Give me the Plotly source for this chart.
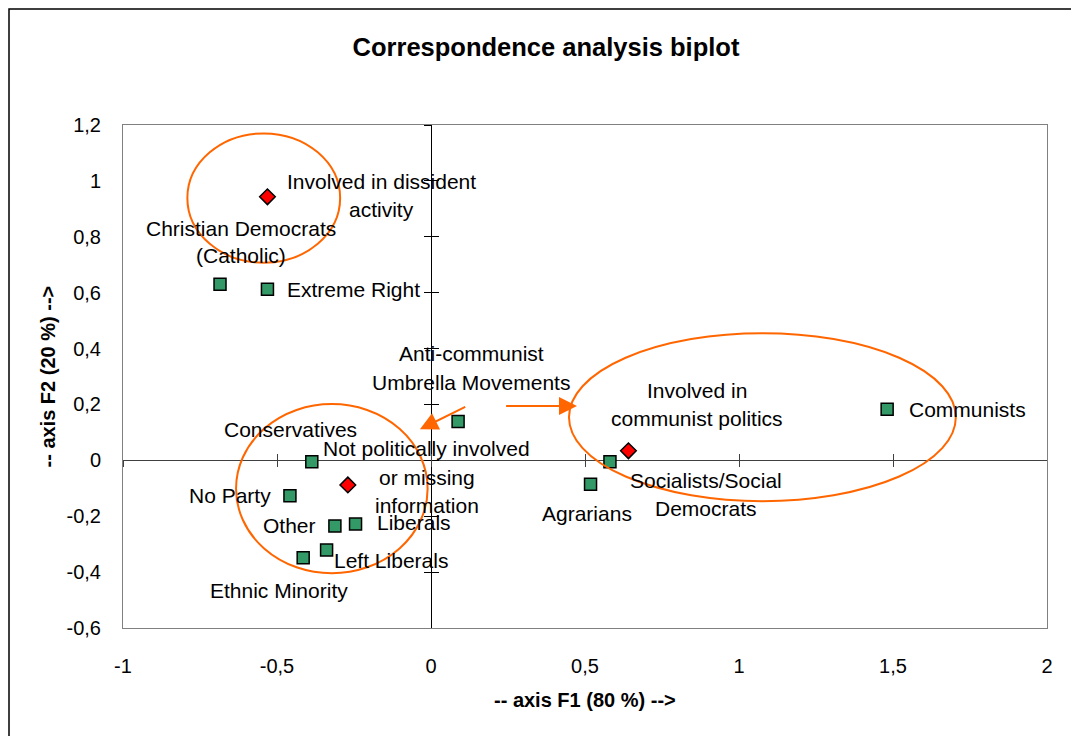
import plotly.graph_objects as go

# ---------------- data ----------------
party_names = ["Christian Democrats\n(Catholic)", "Extreme Right", "Anti-communist\nUmbrella Movements",
               "Communists", "Socialists/Social\nDemocrats", "Agrarians", "Conservatives", "No Party",
               "Other", "Liberals", "Left Liberals", "Ethnic Minority"]
party_f1 = [-0.685, -0.531, 0.088, 1.481, 0.581, 0.518, -0.387, -0.458, -0.312, -0.245, -0.339, -0.415]
party_f2 = [0.630, 0.612, 0.139, 0.183, -0.005, -0.086, -0.005, -0.127, -0.235, -0.228, -0.321, -0.349]

activity_names = ["Involved in dissident\nactivity", "Not politically involved\nor missing\ninformation",
                  "Involved in\ncommunist politics"]
activity_f1 = [-0.531, -0.270, 0.641]
activity_f2 = [0.943, -0.088, 0.034]

x_ticks = [-1, -0.5, 0, 0.5, 1, 1.5, 2]
x_tick_labels = ["-1", "-0,5", "0", "0,5", "1", "1,5", "2"]
y_ticks = [-0.6, -0.4, -0.2, 0, 0.2, 0.4, 0.6, 0.8, 1.0, 1.2]
y_tick_labels = ["-0,6", "-0,4", "-0,2", "0", "0,2", "0,4", "0,6", "0,8", "1", "1,2"]

# highlighted groups (ellipses, in axis units): x0, x1, y0, y1
highlight_regions = [(-0.791, -0.295, 0.707, 1.170),
                     (-0.633, -0.011, -0.404, 0.2015),
                     (0.448, 1.704, -0.146, 0.455)]
# arrows: tail -> head (axis units)
arrow_tails = [(0.116, 0.194), (0.239, 0.194)]
arrow_heads = [(-0.036, 0.111), (0.474, 0.194)]

# ---------------- layout / style ----------------
PAGE_OFF = 8                      # browser body margin
W, H = 1079 - PAGE_OFF, 736 - PAGE_OFF
ML, MR, MT, MB = 123 - PAGE_OFF, 32, 125 - PAGE_OFF, 108
XR = [-1, 2]
YR = [-0.6, 1.2]
FONT = "Liberation Sans, Arial, sans-serif"
LABEL_SIZE = 21
ORANGE = "#FF6600"

# label placement: anchor, dx px, dy px of first line (down positive), line gap px
party_label_pos = [("center", 21, -56, 27.5), ("left", 18, 0, 28), ("center", 13, -67.5, 29),
                   ("left", 20, 0, 28), ("center", 96, 18.3, 28.3), ("center", -4, 29, 28),
                   ("center", -21, -32.4, 28), ("right", -17, 0, 28), ("right", -17, -1, 28),
                   ("left", 19, -1.3, 28), ("left", 5, 10, 28), ("center", -24, 33, 28)]
activity_label_pos = [("center", 114, -15.7, 28), ("center", 79, -36, 28.5), ("center", 68.6, -60, 27.3)]

fig = go.Figure()

fig.add_trace(go.Scatter(
    x=party_f1, y=party_f2, mode="markers", showlegend=False, hoverinfo="skip",
    marker=dict(symbol="square", size=12, color="#339966", line=dict(color="black", width=1.5))))
fig.add_trace(go.Scatter(
    x=activity_f1, y=activity_f2, mode="markers", showlegend=False, hoverinfo="skip",
    marker=dict(symbol="diamond", size=12, color="#FF0000", line=dict(color="black", width=1.5))))

# dummy traces so the crossing axes are drawn
for xa, ya in [("x2", "y"), ("x3", "y"), ("x", "y2"), ("x", "y3")]:
    fig.add_trace(go.Scatter(x=[None], y=[None], xaxis=xa, yaxis=ya, showlegend=False, hoverinfo="skip"))

annotations = []
def add_labels(names, xs, ys, pos):
    for name, x, y, (anc, dx, dy, gap) in zip(names, xs, ys, pos):
        for i, line in enumerate(name.split("\n")):
            annotations.append(dict(
                x=x, y=y, xref="x", yref="y", text=line, showarrow=False,
                xanchor=anc, yanchor="middle", xshift=dx, yshift=-(dy + i * gap),
                font=dict(family=FONT, size=LABEL_SIZE, color="black")))

add_labels(party_names, party_f1, party_f2, party_label_pos)
add_labels(activity_names, activity_f1, activity_f2, activity_label_pos)

for (tx, ty), (hx, hy) in zip(arrow_tails, arrow_heads):
    annotations.append(dict(
        x=hx, y=hy, ax=tx, ay=ty, xref="x", yref="y", axref="x", ayref="y",
        text="", showarrow=True, arrowhead=2, arrowsize=1.8, arrowwidth=2, arrowcolor=ORANGE))

plot_w = W - ML - MR
plot_h = H - MT - MB
# axis titles
annotations.append(dict(x=0.5, y=0, xref="paper", yref="paper", yshift=-72, showarrow=False,
                        text="<b>-- axis F1 (80 %) --></b>", xanchor="center", yanchor="middle",
                        font=dict(family=FONT, size=20, color="black")))
annotations.append(dict(x=0, y=0.5, xref="paper", yref="paper", xshift=-76, showarrow=False,
                        text="<b>-- axis F2 (20 %) --></b>", textangle=-90, xanchor="center", yanchor="middle",
                        font=dict(family=FONT, size=20, color="black")))

shapes = []
for (x0, x1, y0, y1) in highlight_regions:
    shapes.append(dict(type="circle", xref="x", yref="y", x0=x0, x1=x1, y0=y0, y1=y1,
                       line=dict(color=ORANGE, width=2)))
# outer chart frame
shapes.append(dict(type="rect", xref="paper", yref="paper",
                   x0=-(ML - 1) / plot_w, x1=1 + (MR + 10) / plot_w,
                   y0=-(MB + 10) / plot_h, y1=1 + (MT - 1) / plot_h,
                   line=dict(color="black", width=1.5)))

x_zero_pos = (0 - YR[0]) / (YR[1] - YR[0])
y_zero_pos = (0 - XR[0]) / (XR[1] - XR[0])

base_x = dict(range=XR, showgrid=False, zeroline=False, fixedrange=True)
base_y = dict(range=YR, showgrid=False, zeroline=False, fixedrange=True)
tickfont = dict(family=FONT, size=20, color="black")

fig.update_layout(
    width=W, height=H, margin=dict(l=ML, r=MR, t=MT, b=MB),
    paper_bgcolor="white", plot_bgcolor="white",
    title=dict(text="<b>Correspondence analysis biplot</b>", x=(546 - PAGE_OFF) / W, xanchor="center",
               y=1 - (47 - PAGE_OFF) / H, yanchor="middle", font=dict(family=FONT, size=25.5, color="black")),
    xaxis=dict(**base_x, tickvals=x_ticks, ticktext=x_tick_labels, ticks="outside", ticklen=20,
               tickcolor="rgba(0,0,0,0)", showline=True, linecolor="#808080", linewidth=1, mirror=True,
               tickfont=tickfont),
    yaxis=dict(**base_y, tickvals=y_ticks, ticktext=y_tick_labels, ticks="outside", ticklen=17,
               tickcolor="rgba(0,0,0,0)", showline=True, linecolor="#808080", linewidth=1, mirror=True,
               tickfont=tickfont),
    xaxis2=dict(**base_x, overlaying="x", anchor="free", position=x_zero_pos, tickvals=x_ticks,
                ticks="inside", ticklen=6, tickcolor="#404040", showticklabels=False,
                showline=True, linecolor="#404040", linewidth=1, layer="below traces"),
    xaxis3=dict(**base_x, overlaying="x", anchor="free", position=x_zero_pos, tickvals=x_ticks,
                ticks="outside", ticklen=6, tickcolor="#404040", showticklabels=False,
                showline=True, linecolor="#404040", linewidth=1, layer="below traces"),
    yaxis2=dict(**base_y, overlaying="y", anchor="free", position=y_zero_pos, tickvals=y_ticks,
                ticks="inside", ticklen=7, tickcolor="black", showticklabels=False,
                showline=True, linecolor="black", linewidth=1, layer="below traces"),
    yaxis3=dict(**base_y, overlaying="y", anchor="free", position=y_zero_pos, tickvals=y_ticks,
                ticks="outside", ticklen=7, tickcolor="black", showticklabels=False,
                showline=True, linecolor="black", linewidth=1, layer="below traces"),
    annotations=annotations, shapes=shapes,
)

fig.write_html("out.html")
